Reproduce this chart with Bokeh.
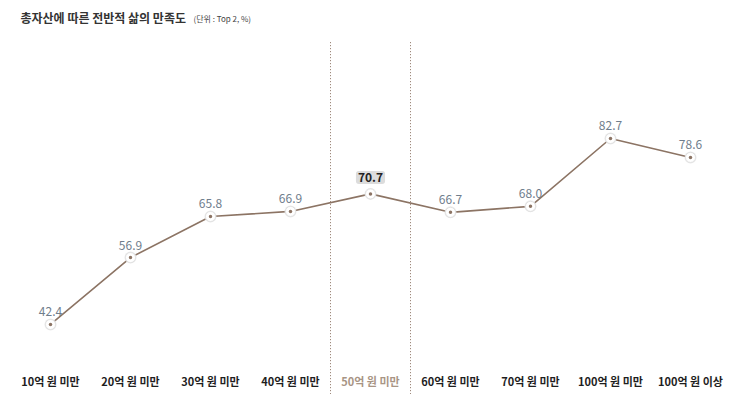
from bokeh.plotting import figure
from bokeh.models import Range1d, Label, ColumnDataSource
from bokeh.core.properties import value
from bokeh.embed import file_html
from bokeh.resources import INLINE

categories = ["10억 원 미만", "20억 원 미만", "30억 원 미만", "40억 원 미만", "50억 원 미만",
              "60억 원 미만", "70억 원 미만", "100억 원 미만", "100억 원 이상"]
satisfaction = [42.4, 56.9, 65.8, 66.9, 70.7, 66.7, 68.0, 82.7, 78.6]
highlight = "50억 원 미만"

FONT = "Noto Sans CJK KR"
LINE = "#8c7464"

xs = list(range(len(categories)))
hi = categories.index(highlight)

p = figure(width=735, height=394, output_backend="svg", toolbar_location=None,
           x_range=Range1d(-0.525, 8.5625), y_range=Range1d(27.23, 112.6),
           min_border=0, min_border_left=8)
p.axis.visible = False
p.grid.visible = False
p.outline_line_color = None
p.background_fill_color = "white"

# 구분 점선
p.segment(x0=[hi - 0.5, hi + 0.5], x1=[hi - 0.5, hi + 0.5], y0=27.3, y1=103.9,
          line_color="#8c7262", line_dash="1 2", line_width=1)

# 라인
p.line(xs, satisfaction, line_color=LINE, line_width=1.6)
p.scatter(xs, satisfaction, size=12, fill_color="#e4e4e4", line_color=None, alpha=0.8)
p.scatter(xs, satisfaction, size=10, fill_color="white", line_color="#dddddd", line_width=0.8)
p.scatter(xs, satisfaction, size=3.5, fill_color=LINE, line_color=None)

# 값 라벨
others = [i for i in xs if i != hi]
src = ColumnDataSource(dict(x=[i for i in others],
                            y=[satisfaction[i] for i in others],
                            t=["%.1f" % satisfaction[i] for i in others]))
p.text(x="x", y="y", text="t", source=src, text_font=value(FONT), text_font_size="12px",
       text_color="#6f7d8c", text_align="center", text_baseline="bottom", y_offset=-8)

p.add_layout(Label(x=hi, y=satisfaction[hi], text="%.1f" % satisfaction[hi],
                   text_font=FONT, text_font_size="12px", text_font_style="bold",
                   text_color="#222222", text_align="center", text_baseline="bottom",
                   y_offset=10, background_fill_color="#dcdcdc", border_radius=3,
                   padding=2))

# 카테고리 라벨
cat_colors = ["#a89585" if c == highlight else "#1e1e1e" for c in categories]
src2 = ColumnDataSource(dict(x=xs, y=[30.05] * len(xs), t=categories, c=cat_colors))
p.text(x="x", y="y", text="t", color="c", source=src2, text_font=value(FONT),
       text_font_size="11px", text_font_style="bold", text_align="center",
       text_baseline="middle")

# 제목
p.add_layout(Label(x=12, y=377, x_units="screen", y_units="screen",
                   text="총자산에 따른 전반적 삶의 만족도", text_font=FONT,
                   text_font_size="12px", text_font_style="bold", text_color="#333333",
                   text_baseline="middle"))
p.add_layout(Label(x=185, y=376, x_units="screen", y_units="screen",
                   text="(단위 : Top 2, %)", text_font=FONT,
                   text_font_size="8px", text_color="#444444",
                   text_baseline="middle"))

open("out.html", "w").write(file_html(p, INLINE))
